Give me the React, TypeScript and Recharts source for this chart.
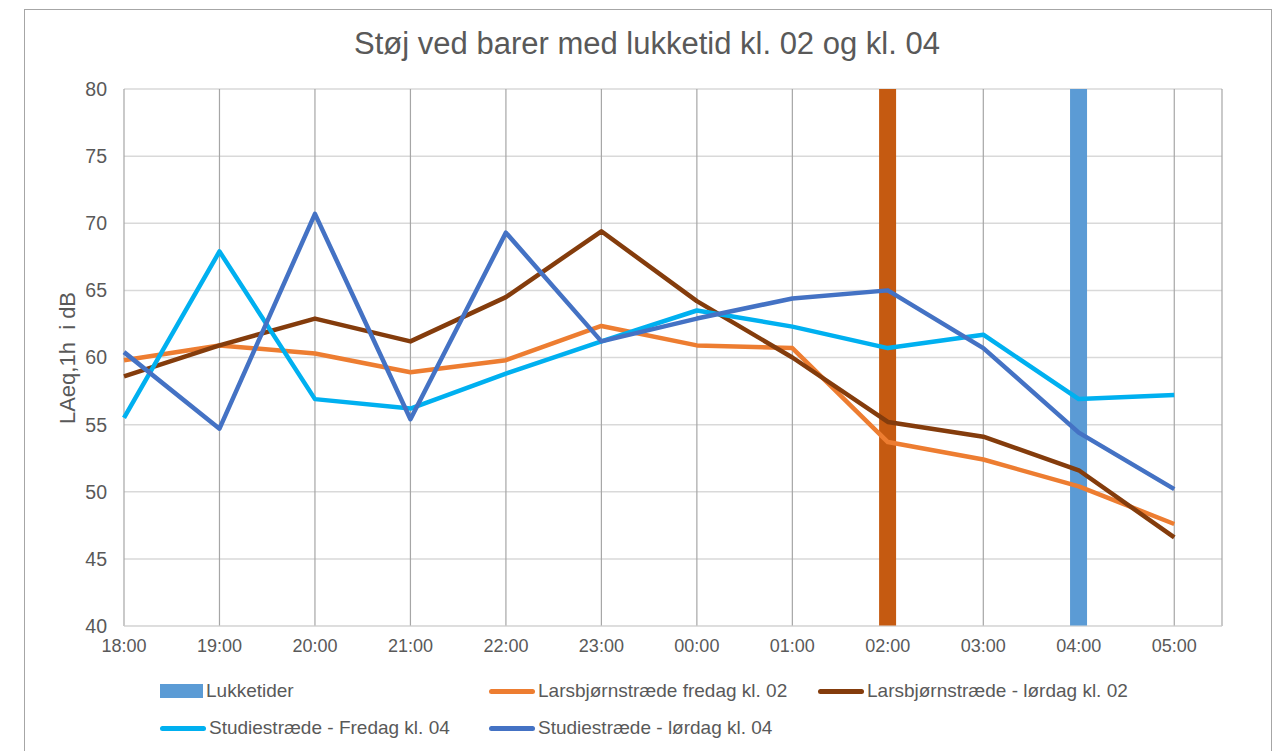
import React from "react";
import { ComposedChart, Bar, Line, Cell, XAxis, YAxis, CartesianGrid } from "recharts";

const hours = ["18:00", "19:00", "20:00", "21:00", "22:00", "23:00", "00:00", "01:00", "02:00", "03:00", "04:00", "05:00"];
const lukketider = [null, null, null, null, null, null, null, null, 80, null, 80, null];
const lukketiderColors = ["#C55A11", "#5B9BD5"];
const larsFredag = [59.8, 60.9, 60.3, 58.9, 59.8, 62.35, 60.9, 60.7, 53.7, 52.4, 50.4, 47.6];
const larsLoerdag = [58.6, 60.9, 62.9, 61.2, 64.5, 69.4, 64.2, 60.0, 55.2, 54.1, 51.6, 46.6];
const studieFredag = [55.5, 67.9, 56.9, 56.2, 58.8, 61.2, 63.5, 62.3, 60.7, 61.7, 56.9, 57.2];
const studieLoerdag = [60.4, 54.7, 70.7, 55.4, 69.3, 61.2, 62.9, 64.4, 65.0, 60.7, 54.4, 50.2];
const yTicks = [40, 45, 50, 55, 60, 65, 70, 75, 80];

const data = hours.map((h, i) => ({
  i,
  hour: h,
  lukketider: lukketider[i],
  larsFredag: larsFredag[i],
  larsLoerdag: larsLoerdag[i],
  studieFredag: studieFredag[i],
  studieLoerdag: studieLoerdag[i],
}));

const font = "'Liberation Sans', Arial, sans-serif";
const textColor = "#595959";

const legendRows = [
  [
    { label: "Lukketider", color: "#5B9BD5", box: true, x: 160 },
    { label: "Larsbjørnstræde fredag kl. 02", color: "#ED7D31", box: false, x: 489 },
    { label: "Larsbjørnstræde - lørdag kl. 02", color: "#843C0C", box: false, x: 818 },
  ],
  [
    { label: "Studiestræde - Fredag kl. 04", color: "#00B0F0", box: false, x: 160 },
    { label: "Studiestræde - lørdag kl. 04", color: "#4472C4", box: false, x: 489 },
  ],
];

function LegendItem({ label, color, box, x, y }: any) {
  return (
    <div style={{ position: "absolute", left: x, top: y - 12, height: 24, display: "flex", alignItems: "center" }}>
      {box ? (
        <div style={{ width: 43, height: 14, background: color }} />
      ) : (
        <div style={{ width: 46, height: 5, borderRadius: 3, background: color }} />
      )}
      <span style={{ marginLeft: 3, fontSize: 19, color: textColor, fontFamily: font, whiteSpace: "nowrap" }}>{label}</span>
    </div>
  );
}

export default function App() {
  return (
    <div style={{ position: "absolute", left: 0, top: 0, width: 1287, height: 751, background: "#fff", overflow: "hidden" }}>
      <div style={{ position: "absolute", left: 24, top: 9, width: 1246, height: 760, border: "1px solid #A6A6A6" }} />
      <div style={{ position: "absolute", left: 0, width: 1294, top: 26, textAlign: "center", fontSize: 31, color: textColor, fontFamily: font }}>
        Støj ved barer med lukketid kl. 02 og kl. 04
      </div>
      <div
        style={{
          position: "absolute",
          left: 68,
          top: 358,
          transform: "translate(-50%, -50%) rotate(-90deg)",
          fontSize: 22,
          color: textColor,
          fontFamily: font,
          whiteSpace: "pre",
        }}
      >
        {"LAeq,1h  i dB"}
      </div>
      <div style={{ position: "absolute", left: 0, top: 0 }}>
        <ComposedChart width={1287} height={751} data={data} margin={{ top: 89, right: 65, left: 64, bottom: 95 }}>
          <CartesianGrid horizontal={true} vertical={false} stroke="#D9D9D9" strokeWidth={1.5} />
          <CartesianGrid horizontal={false} vertical={true} stroke="#A6A6A6" strokeWidth={1.2} />
          <XAxis
            dataKey="i"
            type="number"
            domain={[0, 11.5]}
            ticks={hours.map((_, i) => i)}
            tickFormatter={(v: number) => hours[v]}
            stroke="#D9D9D9"
            tickLine={false}
            tickSize={0}
            tickMargin={13}
            height={30}
            tick={{ fill: textColor, fontSize: 18, fontFamily: font }}
          />
          <YAxis
            domain={[40, 80]}
            ticks={yTicks}
            axisLine={false}
            tickLine={false}
            tickSize={0}
            tickMargin={17}
            width={60}
            tick={{ fill: textColor, fontSize: 19.5, fontFamily: font }}
          />
          <Bar dataKey="lukketider" barSize={17} isAnimationActive={false}>
            {data.map((d, i) => (
              <Cell key={i} fill={i === 8 ? lukketiderColors[0] : lukketiderColors[1]} />
            ))}
          </Bar>
          <Line dataKey="larsFredag" stroke="#ED7D31" strokeWidth={4.5} dot={false} strokeLinejoin="round" isAnimationActive={false} />
          <Line dataKey="larsLoerdag" stroke="#843C0C" strokeWidth={4.5} dot={false} strokeLinejoin="round" isAnimationActive={false} />
          <Line dataKey="studieFredag" stroke="#00B0F0" strokeWidth={4.5} dot={false} strokeLinejoin="round" isAnimationActive={false} />
          <Line dataKey="studieLoerdag" stroke="#4472C4" strokeWidth={4.5} dot={false} strokeLinejoin="round" isAnimationActive={false} />
        </ComposedChart>
      </div>
      {legendRows.map((row, r) =>
        row.map((item) => <LegendItem key={item.label} {...item} y={r === 0 ? 691 : 728} />)
      )}
    </div>
  );
}
